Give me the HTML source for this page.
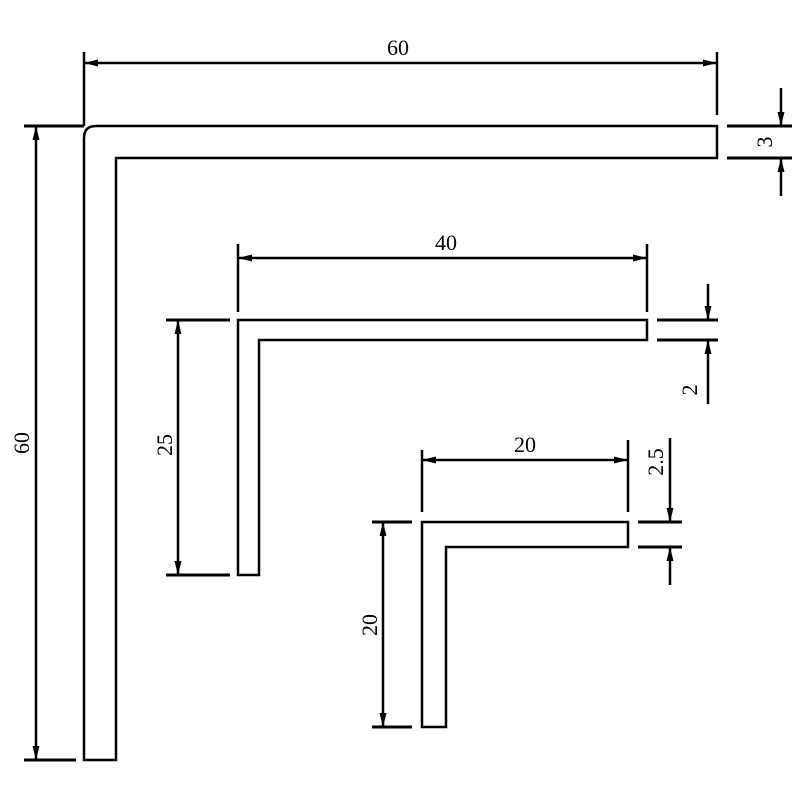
<!DOCTYPE html>
<html><head><style>body{margin:0;background:#fff}</style></head><body>
<svg width="800" height="800" viewBox="0 0 800 800" xmlns="http://www.w3.org/2000/svg">
<defs>
<marker id="a" viewBox="0 0 14 7" refX="14" refY="3.5" markerWidth="14" markerHeight="7" markerUnits="userSpaceOnUse" orient="auto-start-reverse"><path d="M0,0 L14,3.5 L0,7 Z" fill="#000"/></marker>
</defs>
<g fill="none" stroke="#000" stroke-width="2.5">
<path d="M96,126 H717 V158 H116 V760 H84 V138 Q84,126 96,126 Z"/>
<line x1="84" y1="52" x2="84" y2="126"/><line x1="717" y1="52" x2="717" y2="115"/>
<line x1="84" y1="63" x2="717" y2="63" marker-start="url(#a)" marker-end="url(#a)"/>
<line x1="727" y1="126" x2="792" y2="126" stroke-width="3"/><line x1="727" y1="158" x2="792" y2="158" stroke-width="3"/>
<line x1="781" y1="88" x2="781" y2="126" marker-end="url(#a)"/><line x1="781" y1="196" x2="781" y2="158" marker-end="url(#a)"/>
<line x1="24" y1="126" x2="84" y2="126" stroke-width="3"/><line x1="24" y1="760" x2="76" y2="760" stroke-width="3"/>
<line x1="36" y1="126" x2="36" y2="760" marker-start="url(#a)" marker-end="url(#a)"/>
<path d="M238,320 H647 V340 H259 V575 H238 Z"/>
<line x1="238" y1="244" x2="238" y2="312"/><line x1="647" y1="244" x2="647" y2="312"/>
<line x1="238" y1="258" x2="647" y2="258" marker-start="url(#a)" marker-end="url(#a)"/>
<line x1="657" y1="320" x2="718" y2="320" stroke-width="3"/><line x1="657" y1="340" x2="718" y2="340" stroke-width="3"/>
<line x1="708" y1="284" x2="708" y2="320" marker-end="url(#a)"/><line x1="708" y1="404" x2="708" y2="340" marker-end="url(#a)"/>
<line x1="166" y1="320" x2="230" y2="320" stroke-width="3"/><line x1="166" y1="575" x2="230" y2="575" stroke-width="3"/>
<line x1="178" y1="320" x2="178" y2="575" marker-start="url(#a)" marker-end="url(#a)"/>
<path d="M422,522 H628 V547 H446 V727 H422 Z"/>
<line x1="422" y1="450" x2="422" y2="512"/><line x1="628" y1="440" x2="628" y2="512"/>
<line x1="422" y1="460" x2="628" y2="460" marker-start="url(#a)" marker-end="url(#a)"/>
<line x1="638" y1="522" x2="682" y2="522" stroke-width="3"/><line x1="638" y1="547" x2="682" y2="547" stroke-width="3"/>
<line x1="670" y1="438" x2="670" y2="522" marker-end="url(#a)"/><line x1="670" y1="585" x2="670" y2="547" marker-end="url(#a)"/>
<line x1="372" y1="522" x2="412" y2="522" stroke-width="3"/><line x1="372" y1="727" x2="412" y2="727" stroke-width="3"/>
<line x1="383" y1="522" x2="383" y2="727" marker-start="url(#a)" marker-end="url(#a)"/>
</g>
<g font-family="Liberation Serif, serif" font-size="22" fill="#000" text-anchor="middle">
<text x="398" y="55">60</text>
<text x="446" y="250">40</text>
<text x="525" y="452">20</text>
<text transform="translate(772,142) rotate(-90)">3</text>
<text transform="translate(697,390) rotate(-90)">2</text>
<text transform="translate(663,462) rotate(-90)">2.5</text>
<text transform="translate(29,443) rotate(-90)">60</text>
<text transform="translate(172,445) rotate(-90)">25</text>
<text transform="translate(377,625) rotate(-90)">20</text>
</g>
</svg>
</body></html>
